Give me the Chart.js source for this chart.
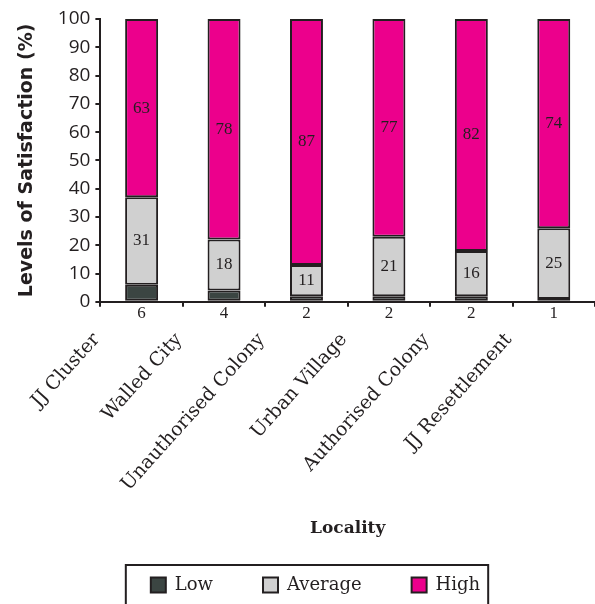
<!DOCTYPE html>
<html>
<head>
<meta charset="UTF-8" />
<title>Levels of Satisfaction by Locality</title>
<script src="https://cdn.jsdelivr.net/npm/chart.js"></script>
<style>
  body { margin: 0; background: #fff; }
  .chart-container { width: 595px; height: 604px; position: relative; }
</style>
</head>
<body>
<div class="chart-container"><canvas id="satChart"></canvas></div>
<script>
  const localities = ['JJ Cluster', 'Walled City', 'Unauthorised Colony', 'Urban Village', 'Authorised Colony', 'JJ Resettlement'];
  const low = [6, 4, 2, 2, 2, 1];
  const average = [31, 18, 11, 21, 16, 25];
  const high = [63, 78, 87, 77, 82, 74];

  const INK = '#231f20';

  // value labels: Low under the axis, others in the middle of each segment
  const valueLabels = {
    id: 'valueLabels',
    afterDatasetsDraw(chart) {
      const ctx = chart.ctx;
      ctx.save();
      ctx.font = '17px "Liberation Serif", "Times New Roman", serif';
      ctx.fillStyle = INK;
      ctx.textAlign = 'center';
      ctx.textBaseline = 'middle';
      chart.data.datasets.forEach((ds, di) => {
        const meta = chart.getDatasetMeta(di);
        meta.data.forEach((bar, i) => {
          const v = ds.data[i];
          if (di === 0) {
            ctx.fillText(v, bar.x, chart.chartArea.bottom + 12);
          } else {
            ctx.fillText(v, bar.x, (bar.y + bar.base) / 2);
          }
        });
      });
      ctx.restore();
    }
  };

  // nudge the legend a little right and frame it
  const legendFrame = {
    id: 'legendFrame',
    afterLayout(chart) {
      chart.legend.left += 10;
      chart.legend.right += 10;
    },
    afterDraw(chart) {
      const boxes = chart.legend.legendHitBoxes;
      if (!boxes || !boxes.length) return;
      const first = boxes[0], last = boxes[boxes.length - 1];
      const ctx = chart.ctx;
      ctx.save();
      ctx.strokeStyle = INK;
      ctx.lineWidth = 2;
      const left = first.left - 25;
      const right = last.left + last.width + 8;
      const top = first.top - 11;
      ctx.strokeRect(left, top, right - left, chart.height - top + 10);
      ctx.restore();
    }
  };

  const makeSet = (label, data, color) => ({
    label: label,
    data: data,
    backgroundColor: color,
    borderColor: INK,
    borderWidth: 2,
    borderSkipped: false,
    barPercentage: 0.4,
    categoryPercentage: 1.0
  });

  new Chart(document.getElementById('satChart'), {
    type: 'bar',
    data: {
      labels: localities,
      datasets: [
        makeSet('Low', low, '#3b4542'),
        makeSet('Average', average, '#d0d0d0'),
        makeSet('High', high, '#ec008c')
      ]
    },
    options: {
      responsive: true,
      maintainAspectRatio: false,
      animation: false,
      layout: { padding: { left: 16, right: 0, top: 19, bottom: 0 } },
      plugins: {
        tooltip: { enabled: false },
        legend: {
          position: 'bottom',
          labels: {
            color: INK,
            font: { family: '"DejaVu Serif", serif', size: 18 },
            boxWidth: 15,
            boxHeight: 15,
            padding: 50
          }
        }
      },
      scales: {
        x: {
          stacked: true,
          border: { color: INK, width: 2 },
          grid: { offset: true, drawOnChartArea: false, drawTicks: true, tickLength: 5, color: INK, lineWidth: 2 },
          ticks: {
            color: INK,
            font: { family: '"DejaVu Serif", serif', size: 19 },
            minRotation: 48,
            maxRotation: 48,
            padding: 22,
            labelOffset: -45,
            autoSkip: false
          },
          title: {
            display: true,
            text: 'Locality',
            color: INK,
            font: { family: '"DejaVu Serif", serif', size: 17, weight: 'bold' },
            padding: { top: 1, bottom: -13 }
          }
        },
        y: {
          stacked: true,
          min: 0,
          max: 100,
          border: { color: INK, width: 2 },
          grid: { drawOnChartArea: false, drawTicks: true, tickLength: 5, color: INK, lineWidth: 2 },
          ticks: {
            stepSize: 10,
            color: INK,
            padding: 5,
            font: { family: '"Open Sans", sans-serif', size: 19 }
          },
          title: {
            display: true,
            text: 'Levels of Satisfaction (%)',
            color: INK,
            font: { family: '"DejaVu Sans", sans-serif', size: 19, weight: 'bold' },
            padding: { top: 0, bottom: 14 }
          }
        }
      }
    },
    plugins: [valueLabels, legendFrame]
  });
</script>
</body>
</html>
